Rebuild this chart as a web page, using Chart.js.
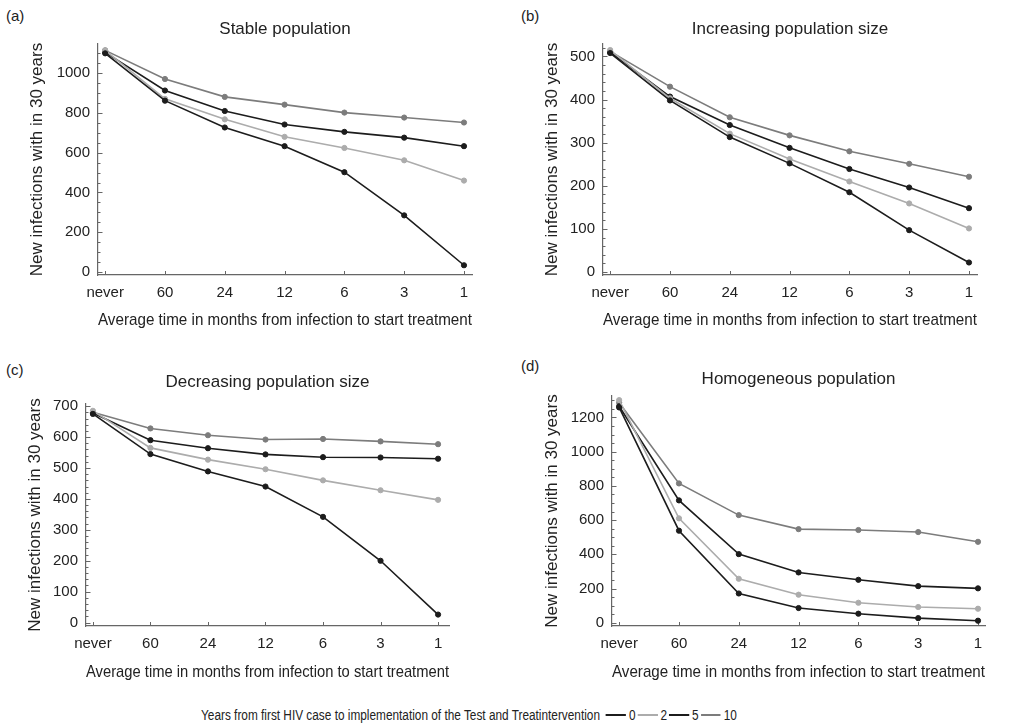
<!DOCTYPE html>
<html>
<head>
<meta charset="utf-8">
<script src="https://cdn.jsdelivr.net/npm/chart.js@4.4.0/dist/chart.umd.min.js"></script>
<style>
  body{margin:0;background:#fff;width:1023px;height:727px;position:relative;overflow:hidden;
       font-family:"Liberation Sans",Arial,Helvetica,sans-serif;color:#222}
  canvas{position:absolute}
  .tag{position:absolute;font-size:15px;line-height:16px}
  #legend{position:absolute;left:201px;top:706px;white-space:nowrap;font-size:14px;line-height:18px;
          transform-origin:0 50%;display:flex;align-items:center}
  .sw{display:inline-block;height:2px}
</style>
</head>
<body>
<div class="tag" style="left:6px;top:8px">(a)</div>
<div class="tag" style="left:521px;top:8px">(b)</div>
<div class="tag" style="left:6px;top:362px">(c)</div>
<div class="tag" style="left:521px;top:358px">(d)</div>

<canvas id="pa" width="510" height="335" style="left:0;top:0"></canvas>
<canvas id="pb" width="518" height="335" style="left:505px;top:0"></canvas>
<canvas id="pc" width="510" height="355" style="left:0;top:335px"></canvas>
<canvas id="pd" width="518" height="355" style="left:505px;top:335px"></canvas>

<div id="legend"></div>

<script>
// categories on the x axis (months from infection to treatment)
const xLabels = ['never', '60', '24', '12', '6', '3', '1'];
// years from first HIV case to the intervention
const seriesNames = ['0', '2', '5', '10'];
const seriesColors = ['#1c1c1c', '#acacac', '#1c1c1c', '#7c7c7c'];

// (a) stable population
const stable0  = [1100, 862, 727, 633, 502, 285, 34];
const stable2  = [1115, 871, 768, 680, 624, 562, 460];
const stable5  = [1105, 913, 810, 742, 705, 676, 633];
const stable10 = [1115, 971, 881, 842, 802, 777, 752];
const stableTicks = [0, 200, 400, 600, 800, 1000];

// (b) increasing population size
const incr0  = [508, 398, 313, 252, 185, 97, 22];
const incr2  = [515, 403, 321, 262, 210, 159, 101];
const incr5  = [510, 407, 341, 288, 239, 196, 148];
const incr10 = [512, 430, 359, 317, 280, 251, 221];
const incrTicks = [0, 100, 200, 300, 400, 500];

// (c) decreasing population size
const decr0  = [675, 545, 489, 440, 342, 200, 26];
const decr2  = [685, 565, 527, 496, 460, 428, 397];
const decr5  = [678, 590, 564, 544, 535, 534, 530];
const decr10 = [680, 628, 606, 592, 594, 586, 577];
const decrTicks = [0, 100, 200, 300, 400, 500, 600, 700];

// (d) homogeneous population
const homo0  = [1258, 538, 171, 86, 53, 27, 12];
const homo2  = [1301, 610, 257, 164, 117, 92, 82];
const homo5  = [1265, 715, 401, 294, 251, 214, 201];
const homo10 = [1286, 814, 629, 547, 542, 530, 473];
const homoTicks = [0, 200, 400, 600, 800, 1000, 1200];

const yTitle = 'New infections with in 30 years';
const xTitle = 'Average time in months from infection to start treatment';
const FONT = '"Liberation Sans", Arial, Helvetica, sans-serif';
const INK = '#222';
const AXIS = '#666';

// per-panel layout: canvas-local plot box and title placement
const panels = [
  {id:'pa', title:'Stable population', series:[stable0, stable2, stable5, stable10], yTicks:stableTicks,
   yMin:-15, yMax:1147, xMax:6.134, minor:50, major:200,
   yW:98, xH:60, padR:38, titleTop:18.8, titleBottom:4.8, yTitlePad:26.8, xTitleBottom:4.8},
  {id:'pb', title:'Increasing population size', series:[incr0, incr2, incr5, incr10], yTicks:incrTicks,
   yMin:-7, yMax:529, xMax:6.134, minor:20, major:100,
   yW:98, xH:60, padR:46, titleTop:18.8, titleBottom:4.8, yTitlePad:36.8, xTitleBottom:4.8},
  {id:'pc', title:'Decreasing population size', series:[decr0, decr2, decr5, decr10], yTicks:decrTicks,
   yMin:-11, yMax:707, xMax:6.19, minor:20, major:100,
   yW:86, xH:64, padR:61, titleTop:36.8, titleBottom:11.8, yTitlePad:24.8, xTitleBottom:7.8},
  {id:'pd', title:'Homogeneous population', series:[homo0, homo2, homo5, homo10], yTicks:homoTicks,
   yMin:-19, yMax:1325, xMax:6.117, minor:50, major:200,
   yW:107, xH:64, padR:38, titleTop:33.8, titleBottom:6.8, yTitlePad:36.8, xTitleBottom:7.8},
];

// short ticks drawn inward from the axes, minor ones on y
const insideTicks = {
  id:'insideTicks',
  beforeDatasetsDraw(chart, args, opts){
    const {ctx, chartArea:a, scales:{x, y}} = chart;
    ctx.save();
    ctx.strokeStyle = AXIS; ctx.lineWidth = 1;
    ctx.beginPath();
    for(let v = Math.ceil(y.min/opts.minor)*opts.minor; v <= y.max; v += opts.minor){
      const py = Math.round(y.getPixelForValue(v)) + 0.5;
      const len = v % opts.major === 0 ? 4.5 : 2.5;
      ctx.moveTo(a.left, py); ctx.lineTo(a.left + len, py);
    }
    xLabels.forEach((_, i)=>{
      const px = Math.round(x.getPixelForValue(i)) + 0.5;
      ctx.moveTo(px, a.bottom); ctx.lineTo(px, a.bottom - 4);
    });
    ctx.stroke();
    ctx.restore();
  }
};

function makePanel(p){
  const datasets = p.series.map((vals, k)=>({
    label: seriesNames[k],
    data: vals.map((v, i)=>({x:i, y:v})),
    borderColor: seriesColors[k], backgroundColor: seriesColors[k],
    pointBackgroundColor: seriesColors[k], pointBorderColor: seriesColors[k],
    borderWidth: 1.6, pointRadius: 2.6, pointBorderWidth: 1, tension: 0
  }));
  return new Chart(document.getElementById(p.id), {
    type:'line',
    data:{datasets},
    plugins:[insideTicks],
    options:{
      responsive:false, animation:false, devicePixelRatio:1,
      layout:{padding:{left:0, top:0, right:p.padR, bottom:0}},
      plugins:{
        legend:{display:false}, tooltip:{enabled:false},
        title:{display:true, text:p.title, fullSize:false, color:INK,
               font:{family:FONT, size:17, weight:'normal', lineHeight:1.2},
               padding:{top:p.titleTop, bottom:p.titleBottom}},
        insideTicks:{minor:p.minor, major:p.major}
      },
      scales:{
        x:{type:'linear', min:-0.12, max:p.xMax,
           afterFit:s=>{ s.height = p.xH; },
           afterBuildTicks:s=>{ s.ticks = xLabels.map((_, i)=>({value:i})); },
           grid:{display:false, drawTicks:false},
           border:{color:AXIS, width:1.2},
           ticks:{color:INK, autoSkip:false, maxRotation:0, padding:9,
                  font:{family:FONT, size:15}, callback:v=>xLabels[v] ?? ''},
           title:{display:true, text:xTitle, color:INK, font:{family:FONT, size:17, lineHeight:1.2},
                  padding:{top:0, bottom:p.xTitleBottom}}},
        y:{type:'linear', min:p.yMin, max:p.yMax,
           afterFit:s=>{ s.width = p.yW; },
           afterBuildTicks:s=>{ s.ticks = p.yTicks.map(v=>({value:v})); },
           grid:{display:false, drawTicks:false},
           border:{color:AXIS, width:1.2},
           ticks:{color:INK, padding:8, font:{family:FONT, size:15}, callback:v=>String(v)},
           title:{display:true, text:yTitle, color:INK, font:{family:FONT, size:17, lineHeight:1.2},
                  padding:{top:p.yTitlePad, bottom:0}}}
      }
    }
  });
}
panels.forEach(makePanel);

// shared legend below the panels, squeezed to the narrow type of the figure
const legend = document.getElementById('legend');
legend.innerHTML = '<span id="legText">Years from first HIV case to implementation of the Test and Treatintervention</span>' +
  seriesNames.map((n, k)=>`<span class="sw" style="background:${seriesColors[k]}"></span><span>${n}</span>`).join('');
const squeeze = 399 / document.getElementById('legText').getBoundingClientRect().width;
legend.querySelectorAll('.sw').forEach((sw, k)=>{
  sw.style.width = (20/squeeze) + 'px';
  sw.style.marginLeft = ((k ? 2 : 6)/squeeze) + 'px';
  sw.style.marginRight = (3/squeeze) + 'px';
});
legend.style.transform = `scaleX(${squeeze})`;
</script>
</body>
</html>
